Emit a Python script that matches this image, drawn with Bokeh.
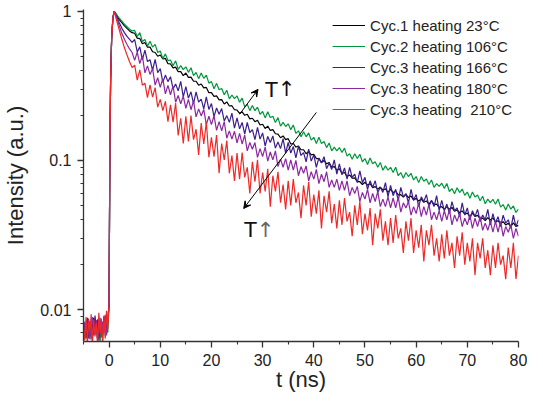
import numpy as np
from bokeh.plotting import figure
from bokeh.models import (FixedTicker, CustomJSTickFormatter, Legend, LegendItem,
                          Arrow, VeeHead, Label, Range1d)
from bokeh.embed import file_html
from bokeh.resources import INLINE

# ---------------- data ----------------
t_pre = np.arange(-5.0, 0.0, 0.25)          # baseline before excitation
t_rise = [0, 0.15, 0.3, 0.5, 0.75, 1.0, 1.5, 2, 2.5, 3, 3.5, 4, 4.5]
t_main = np.arange(5.0, 80.01, 0.5)
t = np.concatenate([t_pre, t_rise, t_main])

labels = ["Cyc.1 heating 23°C", "Cyc.2 heating 106°C", "Cyc.3 heating 166°C",
          "Cyc.3 heating 180°C", "Cyc.3 heating\u00a0 210°C"]
colors = ["#000000", "#00963c", "#3c1e8c", "#8c28a0", "#f02828"]

c1_23_pre = [.0068,.0079,.0064,.0085,.0071,.0066,.0082,.0074,.0088,.0069,.0077,.0063,.0084,.0072,.0080,.0067,.0089,.0070,.0075,.0081]
c1_23_rise = [.011,.12,.35,.66,.91,1.0,.94,.88,.84,.80,.77,.74,.72]
c1_23_main = [.714,.662,.657,.606,.618,.576,.576,.536,.53,.5,
              .51,.48,.484,.446,.444,.418,.423,.394,.394,.371,
              .386,.361,.362,.34,.34,.32,.326,.307,.309,.285,
              .285,.269,.271,.255,.256,.239,.247,.232,.233,.219,
              .218,.207,.212,.201,.204,.19,.192,.182,.186,.173,
              .175,.164,.17,.159,.161,.151,.15,.142,.146,.138,
              .14,.129,.13,.123,.125,.118,.118,.111,.115,.109,
              .11,.103,.103,.097,.1,.095,.097,.09,.091,.086,
              .088,.082,.083,.078,.08,.076,.0765,.072,.072,.069,
              .0714,.0683,.07,.0657,.0667,.0642,.0663,.0632,.0646,.0611,
              .0639,.0609,.0622,.0588,.059,.0567,.0592,.0564,.0577,.0544,
              .0556,.0534,.0551,.0524,.0535,.0509,.0536,.0505,.051,.0485,
              .049,.047,.049,.047,.0484,.0456,.0465,.0446,.0459,.0436,
              .0444,.0422,.0443,.0421,.0428,.0407,.041,.0395,.0413,.0398,
              .0412,.0387,.0394,.0377,.0388,.0369,.0379,.0361,.0381,.0361,
              .0367]

c2_106_pre = [.0072,.0065,.0081,.0069,.0077,.0084,.0063,.0079,.0071,.0086,.0068,.0075,.0083,.0061,.0080,.0074,.0087,.0066,.0082,.0070]
c2_106_rise = [.011,.12,.35,.66,.91,1.0,.95,.90,.86,.82,.79,.76,.74]
c2_106_main = [.746,.679,.721,.628,.648,.585,.63,.576,.601,.53,
               .543,.482,.519,.468,.472,.432,.466,.409,.433,.407,
               .425,.39,.419,.371,.39,.354,.386,.356,.374,.33,
               .338,.303,.329,.298,.304,.276,.296,.259,.275,.26,
               .271,.246,.262,.229,.238,.216,.234,.216,.228,.204,
               .213,.193,.212,.194,.198,.18,.194,.17,.18,.169,
               .176,.161,.173,.152,.158,.144,.156,.144,.153,.137,
               .143,.13,.143,.13,.134,.122,.131,.116,.123,.116,
               .122,.113,.121,.107,.111,.102,.111,.103,.11,.098,
               .103,.094,.104,.095,.098,.09,.097,.086,.092,.086,
               .09,.083,.09,.079,.083,.076,.083,.078,.082,.074,
               .078,.071,.078,.0726,.075,.069,.074,.066,.07,.0669,
               .0704,.065,.07,.0619,.0648,.0597,.0656,.0609,.0643,.0583,
               .0614,.0558,.0615,.0568,.0587,.0536,.0576,.0512,.055,.0522,
               .0549,.0509,.0551,.0486,.0506,.0465,.0511,.0471,.0495,.0448,
               .0471]

c3_166_pre = [.0081,.0069,.0076,.0088,.0064,.0078,.0071,.0083,.0067,.0091,.0073,.0086,.0062,.0079,.0084,.0068,.0090,.0072,.0077,.0085]
c3_166_rise = [.011,.12,.35,.66,.91,1.0,.92,.84,.77,.72,.68,.65,.62]
c3_166_main = [.648,.535,.578,.473,.55,.461,.474,.403,.476,.388,
               .413,.334,.374,.338,.365,.302,.326,.293,.339,.267,
               .313,.262,.289,.241,.288,.246,.258,.222,.267,.22,
               .241,.197,.225,.204,.223,.184,.2,.18,.208,.165,
               .193,.163,.18,.15,.18,.154,.161,.138,.167,.139,
               .153,.125,.145,.132,.146,.121,.133,.12,.14,.112,
               .132,.112,.124,.104,.125,.108,.113,.098,.119,.099,
               .109,.09,.104,.096,.106,.088,.096,.087,.101,.081,
               .095,.08,.089,.075,.09,.077,.081,.071,.085,.071,
               .077,.064,.073,.066,.073,.061,.066,.061,.071,.057,
               .068,.058,.064,.054,.066,.057,.06,.052,.064,.054,
               .059,.049,.057,.053,.059,.049,.054,.049,.058,.046,
               .054,.046,.051,.044,.053,.046,.048,.042,.052,.043,
               .048,.04,.046,.042,.047,.039,.043,.04,.047,.037,
               .044,.038,.042,.036,.043,.038,.04,.035,.043,.036,
               .04]

c3_180_pre = [.0066,.0083,.0072,.0079,.0087,.0063,.0076,.0089,.0074,.0068,.0085,.0061,.0079,.0088,.0065,.0083,.0071,.0092,.0067,.0080]
c3_180_rise = [.011,.12,.35,.66,.91,1.0,.90,.80,.71,.65,.60,.56,.53]
c3_180_main = [.469,.534,.447,.504,.387,.431,.378,.413,.32,.359,
               .31,.354,.28,.319,.276,.316,.246,.273,.24,.27,
               .224,.257,.219,.251,.196,.222,.199,.22,.174,.198,
               .174,.2,.159,.182,.158,.182,.141,.158,.139,.157,
               .131,.152,.129,.148,.116,.132,.119,.132,.105,.12,
               .106,.123,.099,.114,.101,.116,.091,.102,.09,.103,
               .086,.101,.086,.1,.079,.091,.082,.092,.073,.084,
               .075,.087,.07,.081,.072,.084,.066,.074,.066,.075,
               .063,.073,.063,.073,.058,.066,.06,.067,.053,.061,
               .055,.064,.052,.06,.053,.062,.049,.055,.049,.057,
               .048,.056,.048,.057,.045,.052,.048,.053,.043,.049,
               .044,.052,.042,.049,.043,.051,.04,.045,.04,.046,
               .039,.046,.04,.047,.037,.043,.039,.044,.036,.041,
               .037,.043,.035,.041,.036,.042,.034,.038,.034,.039,
               .033,.039,.033,.039,.031,.036,.033,.037,.03,.035,
               .031]

c3_210_pre = [.0078,.0062,.0089,.0058,.0084,.0071,.0093,.0057,.0086,.0066,.0081,.0059,.0095,.0069,.0087,.0056,.0091,.0064,.0098,.0074]
c3_210_rise = [.011,.12,.35,.66,.91,1.0,.86,.75,.65,.57,.51,.46,.42]
c3_210_main = [.436,.346,.405,.32,.33,.264,.322,.266,.308,.228,
               .257,.216,.249,.182,.236,.181,.243,.147,.192,.13,
               .198,.134,.2,.138,.162,.109,.178,.129,.181,.105,
               .143,.106,.148,.082,.13,.101,.136,.082,.108,.073,
               .112,.075,.113,.077,.09,.06,.098,.072,.101,.06,
               .083,.062,.088,.049,.079,.062,.084,.052,.069,.047,
               .073,.05,.075,.052,.061,.041,.068,.05,.072,.042,
               .059,.044,.063,.035,.058,.045,.062,.038,.051,.035,
               .054,.037,.056,.039,.045,.031,.05,.037,.053,.032,
               .044,.034,.048,.027,.044,.035,.047,.029,.039,.027,
               .041,.028,.043,.03,.035,.024,.039,.029,.041,.024,
               .034,.026,.037,.021,.034,.027,.037,.023,.03,.021,
               .032,.022,.034,.023,.028,.019,.031,.023,.033,.02,
               .028,.021,.03,.017,.028,.022,.03,.019,.025,.017,
               .027,.019,.028,.02,.023,.016,.026,.019,.028,.016,
               .023]

series = [c1_23_pre + c1_23_rise + c1_23_main,
          c2_106_pre + c2_106_rise + c2_106_main,
          c3_166_pre + c3_166_rise + c3_166_main,
          c3_180_pre + c3_180_rise + c3_180_main,
          c3_210_pre + c3_210_rise + c3_210_main]
for s in series:
    assert len(s) == len(t), (len(s), len(t))

x_major = [0, 10, 20, 30, 40, 50, 60, 70, 80]
x_minor = [-5, 5, 15, 25, 35, 45, 55, 65, 75]
y_major = [0.01, 0.1, 1]
y_minor = [0.007, 0.008, 0.009, 0.02, 0.03, 0.04, 0.05, 0.06, 0.07, 0.08, 0.09,
           0.2, 0.3, 0.4, 0.5, 0.6, 0.7, 0.8, 0.9]

FONT = "Liberation Sans"

p = figure(width=527, height=394, y_axis_type="log",
           x_range=Range1d(-5, 80), y_range=Range1d(0.0061, 1.03),
           output_backend="svg", toolbar_location=None,
           min_border_left=79, min_border_right=9, min_border_top=9,
           min_border_bottom=50)
p.outline_line_color = None
p.xgrid.visible = False
p.ygrid.visible = False
p.background_fill_color = "white"
p.border_fill_color = "white"

renderers = []
for s, c in zip(series, colors):
    r = p.line(t, s, line_color=c, line_width=1.2)
    renderers.append(r)

# axes
for ax in (p.xaxis[0], p.yaxis[0]):
    ax.axis_line_width = 1.3
    ax.axis_line_color = "#333333"
    ax.major_tick_line_color = "#333333"
    ax.minor_tick_line_color = "#333333"
    ax.major_tick_line_width = 1.3
    ax.minor_tick_line_width = 1.1
    ax.major_tick_in = 0
    ax.major_tick_out = 6
    ax.minor_tick_in = 0
    ax.minor_tick_out = 3
    ax.major_label_text_font = FONT
    ax.major_label_text_font_size = "16px"
    ax.major_label_text_color = "#222222"
    ax.major_label_standoff = 6
    ax.axis_label_text_font = FONT
    ax.axis_label_text_font_size = "22px"
    ax.axis_label_text_font_style = "normal"
    ax.axis_label_text_color = "#222222"

p.xaxis.ticker = FixedTicker(ticks=x_major, minor_ticks=x_minor)
p.yaxis.ticker = FixedTicker(ticks=y_major, minor_ticks=y_minor)
p.yaxis.formatter = CustomJSTickFormatter(code="return tick.toString();")
p.xaxis.axis_label = "t (ns)"
p.yaxis.axis_label = "Intensity (a.u.)"
p.xaxis.axis_label_standoff = -2
p.yaxis.axis_label_standoff = 9

# legend
legend = Legend(items=[LegendItem(label=l, renderers=[r]) for l, r in zip(labels, renderers)],
                location="top_right",
                label_text_font=FONT, label_text_font_size="15px",
                label_text_color="#222222",
                glyph_width=33, glyph_height=20, label_height=20,
                spacing=1, padding=0, margin=6, label_standoff=5,
                border_line_color=None, background_fill_alpha=0)
p.add_layout(legend)

# annotations
p.add_layout(Arrow(end=VeeHead(size=7, fill_color="black", line_color="black"),
                   x_start=25.5, y_start=0.204, x_end=29.1, y_end=0.30,
                   line_color="black", line_width=1))
p.add_layout(Arrow(end=VeeHead(size=7, fill_color="black", line_color="black"),
                   x_start=40.5, y_start=0.21, x_end=26.3, y_end=0.0476,
                   line_color="black", line_width=1))
p.add_layout(Label(x=30.4, y=0.30, text="T", text_font=FONT, text_font_size="22px",
                   text_baseline="middle", text_color="#111111"))
p.add_layout(Label(x=30.4, y=0.30, x_offset=13, text="↑", text_font="DejaVu Sans",
                   text_font_size="21px", text_baseline="middle", text_color="#111111"))
p.add_layout(Label(x=26.3, y=0.0344, text="T", text_font=FONT, text_font_size="22px",
                   text_baseline="middle", text_color="#111111"))
p.add_layout(Label(x=26.3, y=0.0344, x_offset=13, text="↑", text_font="DejaVu Sans",
                   text_font_size="21px", text_baseline="middle", text_color="#666666"))

open("out.html", "w").write(file_html(p, INLINE))
